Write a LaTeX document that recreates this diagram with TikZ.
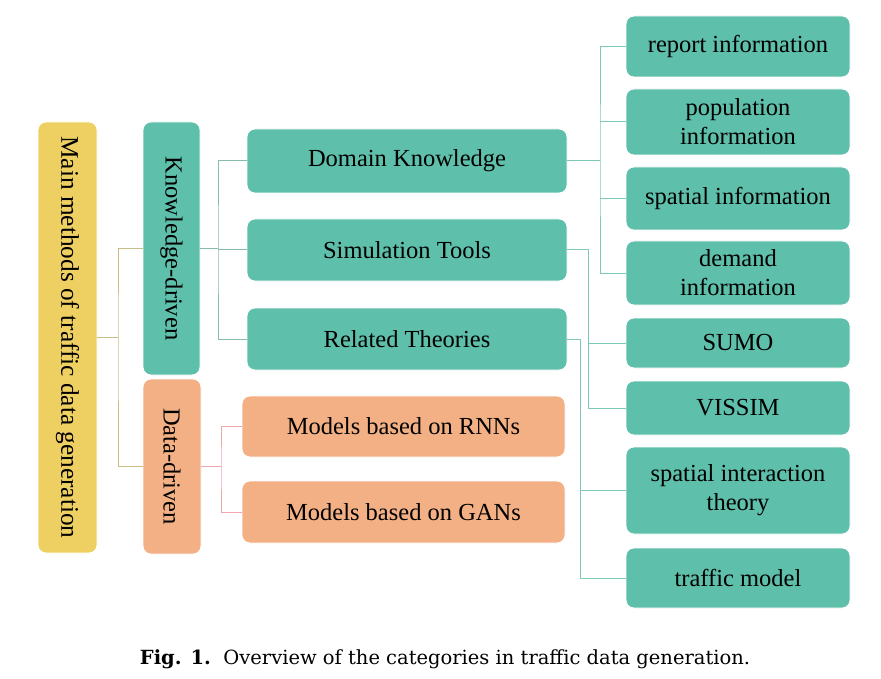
\documentclass[tikz,border=0pt]{standalone}
\usepackage{fontspec}
\setmainfont{Liberation Serif}
\newfontfamily\capfont{DejaVu Serif}
\usetikzlibrary{calc}
\definecolor{teal1}{HTML}{5EBFAB}
\definecolor{yel1}{HTML}{EED062}
\definecolor{ora1}{HTML}{F3B084}
\definecolor{lnY}{HTML}{C9BE86}
\definecolor{lnK}{HTML}{86BCB0}
\definecolor{lnT}{HTML}{7FC9B8}
\definecolor{lnP}{HTML}{EFA6AC}
\tikzset{
  bx/.style={rounded corners=8pt, inner sep=0pt, align=center, text=black,
    font=\fontsize{24.5}{29}\selectfont, draw=white, line width=0.8pt},
  tb/.style={bx, fill=teal1},
  ob/.style={bx, fill=ora1},
  yb/.style={bx, fill=yel1},
  cn/.style={line width=1pt},
}
\begin{document}
\begin{tikzpicture}[x=1pt,y=-1pt]
\useasboundingbox (0,0) rectangle (881,679);
% level 0/1 (rotated: .north = right side, .south = left side)
\node[yb, rotate=-90, minimum width=431, minimum height=59, font=\fontsize{25.3}{29}\selectfont] (main) at (67.5,337.5) {Main methods of traffic data generation};
\node[tb, rotate=-90, minimum width=253, minimum height=57, font=\fontsize{24.5}{29}\selectfont] (kd) at (171.5,248.5) {Knowledge-driven};
\node[ob, rotate=-90, minimum width=175, minimum height=58, font=\fontsize{24.5}{29}\selectfont] (dd) at (172,466.5) {Data-driven};
% level 2
\node[tb, minimum width=320, minimum height=64] (dk) at (407,161) {Domain Knowledge};
\node[tb, minimum width=320, minimum height=62] (st) at (407,250) {Simulation Tools};
\node[tb, minimum width=320, minimum height=62] (rt) at (407,339) {Related Theories};
\node[ob, minimum width=323, minimum height=61] (rnn) at (403.5,426.5) {Models based on RNNs};
\node[ob, minimum width=323, minimum height=62] (gan) at (403.5,512) {Models based on GANs};
% level 3
\node[tb, minimum width=224, minimum height=61] (rep) at (738,46.5) {report information};
\node[tb, minimum width=224, minimum height=66] (pop) at (738,122) {population\\information};
\node[tb, minimum width=224, minimum height=63] (spa) at (738,198.5) {spatial information};
\node[tb, minimum width=224, minimum height=64] (dem) at (738,273) {demand\\information};
\node[tb, minimum width=224, minimum height=50] (sumo) at (738,343) {SUMO};
\node[tb, minimum width=224, minimum height=54] (vis) at (738,408) {VISSIM};
\node[tb, minimum width=224, minimum height=87] (sit) at (738,490.5) {spatial interaction\\theory};
\node[tb, minimum width=224, minimum height=60] (tm) at (738,578) {traffic model};
% junctions
\coordinate (jm) at (118,337.5);
\coordinate (jk) at (218,248.5);
\coordinate (jdd) at (221,466.5);
\coordinate (jd) at (600,161);
\coordinate (js) at (588,250);
\coordinate (jr) at (580,339);
% connectors
\draw[cn, lnY] (main.north) -- (jm);
\draw[cn, lnY] (kd.south) -| (jm) |- (dd.south);
\draw[cn, lnK] (kd.north) -- (jk);
\draw[cn, lnK] (dk.west) -| (jk) |- (rt.west);
\draw[cn, lnK] (st.west) -- (st.west -| jk);
\draw[cn, lnP] (dd.north) -- (jdd);
\draw[cn, lnP] (rnn.west) -| (jdd) |- (gan.west);
\draw[cn, lnT] (dk.east) -- (jd);
\draw[cn, lnT] (rep.west) -| (jd) |- (dem.west);
\draw[cn, lnT] (pop.west) -- (pop.west -| jd);
\draw[cn, lnT] (spa.west) -- (spa.west -| jd);
\draw[cn, lnT] (st.east) -- (js) |- (vis.west);
\draw[cn, lnT] (sumo.west) -- (sumo.west -| js);
\draw[cn, lnT] (rt.east) -- (jr) |- (tm.west);
\draw[cn, lnT] (sit.west) -- (sit.west -| jr);
% caption
\node[font=\capfont\fontsize{19.5}{22}\selectfont, inner sep=0pt] (cap) at (445,659) {\textbf{Fig. 1.}\ \ Overview of the categories in traffic data generation.};
\end{tikzpicture}
\end{document}
